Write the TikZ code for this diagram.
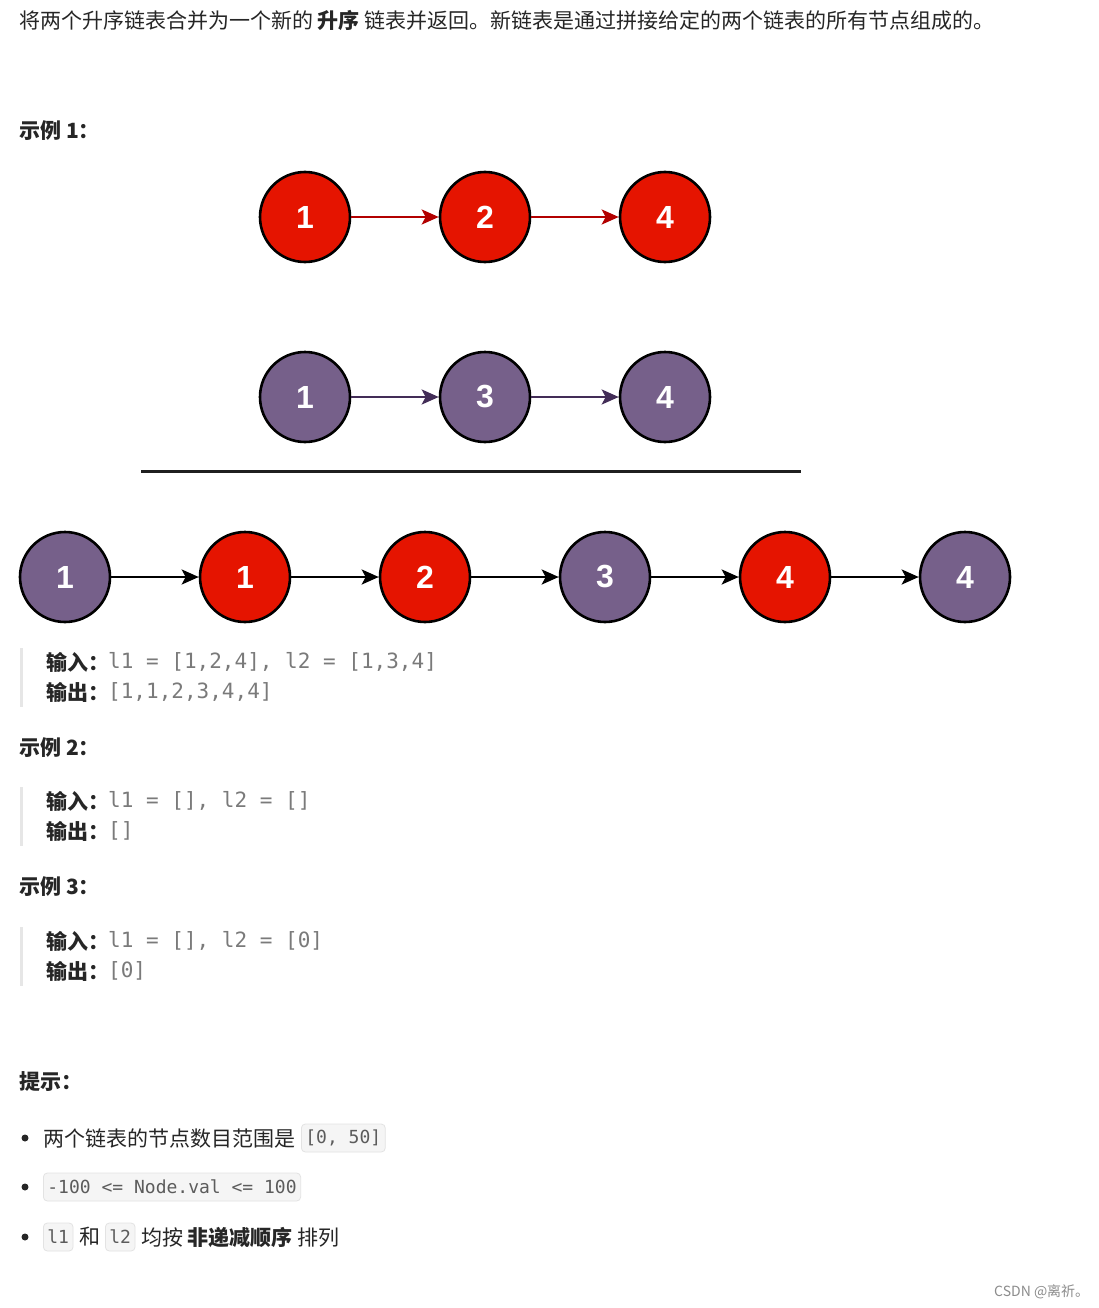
\documentclass[tikz,border=0pt]{standalone}
\usepackage{fontspec}
\setmainfont{Noto Sans CJK SC}
\setmonofont{DejaVu Sans Mono}
\newfontfamily\numfont{Liberation Sans}
\usepackage{xcolor}
\usetikzlibrary{arrows.meta}

\definecolor{nodered}{HTML}{E51400}
\definecolor{nodepurple}{HTML}{76608A}
\definecolor{linkred}{HTML}{B20000}
\definecolor{linkpurple}{HTML}{432D57}
\definecolor{textdark}{HTML}{262626}
\definecolor{quotegray}{HTML}{7A7A7A}
\definecolor{codegray}{HTML}{5C5C5C}
\definecolor{codebg}{HTML}{F5F5F5}
\definecolor{codeline}{HTML}{E3E3E3}
\definecolor{barline}{HTML}{E6E6E6}

\begin{document}
\begin{tikzpicture}[x=1pt, y=-1pt,
    ball/.style={circle, draw=black, line width=2.6pt, minimum size=90pt, inner sep=0pt, text=white, font=\numfont\bfseries\fontsize{32}{32}\selectfont},
    redball/.style={ball, fill=nodered},
    purpball/.style={ball, fill=nodepurple},
    link/.style={-{Stealth[length=17pt, width=15pt, inset=4pt]}, line width=2.6pt},
    txt/.style={anchor=west, inner sep=0pt, text=textdark, font=\fontsize{21}{25}\selectfont},
    head/.style={txt, font=\bfseries\fontsize{21}{25}\selectfont},
    quote/.style={anchor=west, inner sep=0pt, text=quotegray, font=\ttfamily\fontsize{21}{24}\selectfont},
    code/.style={anchor=west, rounded corners=4pt, fill=codebg, draw=codeline, line width=0.8pt, inner xsep=4pt, inner ysep=0pt, minimum height=28pt, text=codegray, font=\ttfamily\fontsize{18}{20}\selectfont},
    bar/.style={draw=barline, line width=3pt}
]
    \fill[white] (0,0) rectangle (1099,1308);
    \useasboundingbox (0,0) rectangle (1099,1308);

    % Text
    \node[txt] (intro) at (19,20) {将两个升序链表合并为一个新的 \textbf{升序} 链表并返回。新链表是通过拼接给定的两个链表的所有节点组成的。};
    \node[head] (ex1) at (19,131) {示例 1：};

    % Nodes
    \node[redball] (a1) at (305,217) {1};
    \node[redball] (a2) at (485,217) {2};
    \node[redball] (a4) at (665,217) {4};
    \node[purpball] (b1) at (305,397) {1};
    \node[purpball] (b3) at (485,397) {3};
    \node[purpball] (b4) at (665,397) {4};
    \draw[line width=3pt, draw=black!88] (141,471) -- (801,471);
    \node[purpball] (m1) at (65,577) {1};
    \node[redball] (m2) at (245,577) {1};
    \node[redball] (m3) at (425,577) {2};
    \node[purpball] (m4) at (605,577) {3};
    \node[redball] (m5) at (785,577) {4};
    \node[purpball] (m6) at (965,577) {4};

    % Arrows
    \draw[link, draw=linkred] (a1) -- (a2);
    \draw[link, draw=linkred] (a2) -- (a4);
    \draw[link, draw=linkpurple] (b1) -- (b3);
    \draw[link, draw=linkpurple] (b3) -- (b4);
    \draw[link] (m1) -- (m2);
    \draw[link] (m2) -- (m3);
    \draw[link] (m3) -- (m4);
    \draw[link] (m4) -- (m5);
    \draw[link] (m5) -- (m6);

    % Example 1
    \draw[bar] (21,648) -- (21,707);
    \node[head] (in1) at (46,662) {输入：};
    \node[quote] (in1val) at (108,662) {l1 = [1,2,4], l2 = [1,3,4]};
    \node[head] (out1) at (46,692) {输出：};
    \node[quote] (out1val) at (108,692) {[1,1,2,3,4,4]};

    % Example 2
    \node[head] (ex2) at (19,748) {示例 2：};
    \draw[bar] (21,787) -- (21,846);
    \node[head] (in2) at (46,801) {输入：};
    \node[quote] (in2val) at (108,801) {l1 = [], l2 = []};
    \node[head] (out2) at (46,831) {输出：};
    \node[quote] (out2val) at (108,831) {[]};

    % Example 3
    \node[head] (ex3) at (19,887) {示例 3：};
    \draw[bar] (21,927) -- (21,986);
    \node[head] (in3) at (46,941) {输入：};
    \node[quote] (in3val) at (108,941) {l1 = [], l2 = [0]};
    \node[head] (out3) at (46,971) {输出：};
    \node[quote] (out3val) at (108,971) {[0]};

    % Hints
    \node[head] (hints) at (19,1082) {提示：};
    \fill[textdark] (25,1138) circle (3.5);
    \fill[textdark] (25,1187) circle (3.5);
    \fill[textdark] (25,1237) circle (3.5);
    \node[txt] (hint1) at (43,1138) {两个链表的节点数目范围是};
    \node[code] (range) at (301,1138) {[0, 50]};
    \node[code] (vals) at (43,1187) {-100 <= Node.val <= 100};
    \node[code] (l1box) at (43,1237) {l1};
    \node[txt] (and) at (79,1237) {和};
    \node[code] (l2box) at (105,1237) {l2};
    \node[txt] (hint3) at (141,1237) {均按 \textbf{非递减顺序} 排列};

    \node[anchor=west, inner sep=0pt, text=black!45, font=\fontsize{14}{16}\selectfont] (mark) at (994,1292) {CSDN @离祈。};
\end{tikzpicture}
\end{document}
